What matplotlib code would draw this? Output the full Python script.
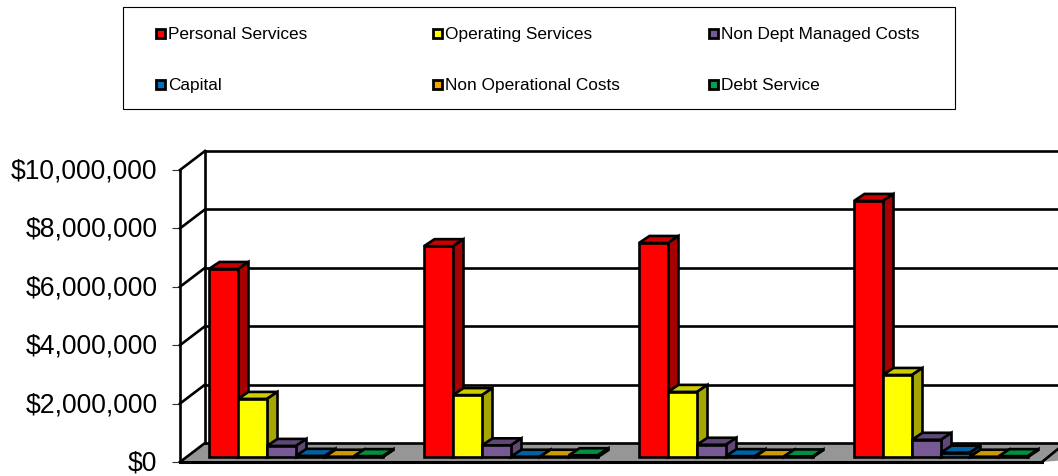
import matplotlib
matplotlib.use("Agg")
import matplotlib.pyplot as plt
from matplotlib.patches import Polygon, Rectangle
from matplotlib.transforms import ScaledTranslation

plt.rcParams['font.family'] = ['Liberation Sans', 'DejaVu Sans']

# 数据
years = [0, 1, 2, 3]
series_names = ['Personal Services', 'Operating Services', 'Non Dept Managed Costs',
                'Capital', 'Non Operational Costs', 'Debt Service']
personal = [6440000, 7220000, 7330000, 8770000]
operating = [1990000, 2120000, 2230000, 2810000]
non_dept = [380000, 400000, 420000, 590000]
capital = [40000, 10000, 30000, 150000]
non_oper = [10000, 10000, 10000, 10000]
debt = [30000, 60000, 20000, 30000]
all_series = [personal, operating, non_dept, capital, non_oper, debt]

y_ticks = [0, 2000000, 4000000, 6000000, 8000000, 10000000]
y_labels = ['$0', '$2,000,000', '$4,000,000', '$6,000,000', '$8,000,000', '$10,000,000']

front = ['#FF0000', '#FFFF00', '#775A93', '#0066AA', '#CC9900', '#009944']
top = ['#CC0000', '#CCCC00', '#5F4876', '#0062A6', '#CC9900', '#009040']
side = ['#A60000', '#A6A600', '#5F4876', '#004C80', '#8A6800', '#006330']
legend_face = ['#FF0000', '#FFFF00', '#775A93', '#0070C0', '#F0A800', '#00A050']

fig = plt.figure(figsize=(10.58, 4.76), dpi=100)
W, H = 1058, 476
ax = fig.add_axes([180 / W, 1 - 462 / H, (W - 180) / W, 292 / H])

# 一个像素对应的数据量
px_x = 1 / 215
px_y = 10000000 / 292
ax.set_xlim(-29 * px_x, 849 * px_x)
ax.set_ylim(0, 10000000)

wall_x = 25 * px_x
wall_y = 19 * px_y
x0 = -29 * px_x
x_end = 849 * px_x
lw = 1.9

# 地板
floor = Polygon([(x0, 0), (x0 + wall_x, wall_y), (x_end + 1, wall_y), (833 * px_x, 0)],
                facecolor='#969696', edgecolor='none', zorder=1, clip_on=False)
ax.add_patch(floor)

# 墙和网格线
for t in y_ticks:
    ax.plot([x0, x0 + wall_x], [t, t + wall_y], color='black', lw=lw, zorder=2, clip_on=False)
    ax.plot([x0 + wall_x, x_end], [t + wall_y, t + wall_y], color='black', lw=lw, zorder=2, clip_on=False)
ax.plot([x0 + wall_x, x0 + wall_x], [wall_y, 10000000 + wall_y], color='black', lw=lw, zorder=2, clip_on=False)
ax.plot([x0, 833 * px_x], [0, 0], color='black', lw=lw + 0.3, zorder=2, clip_on=False)
ax.plot([833 * px_x, x_end], [0, 13 * px_y], color='black', lw=lw, zorder=2, clip_on=False)

# 柱子
bar_w = 29 * px_x
dx = 10.5 * px_x
dy = 7 * px_y
base = 5 * px_y
zo = 3
for g in years:
    for s in range(len(all_series)):
        v = all_series[s][g]
        left = g + s * bar_w
        zo += 1
        ax.bar(left, v, bar_w, bottom=base, align='edge', color=front[s], edgecolor='black',
               linewidth=lw, zorder=zo + 0.5, clip_on=False)
        h = base + v
        ax.add_patch(Polygon([(left, h), (left + dx, h + dy), (left + bar_w + dx, h + dy), (left + bar_w, h)],
                             facecolor=top[s], edgecolor='black', lw=lw, zorder=zo, clip_on=False))
        ax.add_patch(Polygon([(left + bar_w, base), (left + bar_w + dx, base + dy),
                              (left + bar_w + dx, h + dy), (left + bar_w, h)],
                             facecolor=side[s], edgecolor='black', lw=lw, zorder=zo, clip_on=False))

ax.set_xticks([])
ax.set_yticks(y_ticks)
ax.set_yticklabels(y_labels, fontsize=19.1)
ax.tick_params(axis='y', length=5.8, width=0.8, pad=10.5, color='#333333')
up = ScaledTranslation(0, 1.5 / 100, fig.dpi_scale_trans)
for lab in ax.get_yticklabels():
    lab.set_transform(lab.get_transform() + up)
ax.patch.set_visible(False)
for name in ['top', 'right', 'bottom']:
    ax.spines[name].set_visible(False)
ax.spines['left'].set_linewidth(lw)

# 图例
leg = fig.add_axes([0, 0, 1, 1])
leg.set_xlim(0, W)
leg.set_ylim(H, 0)
leg.axis('off')
leg.add_patch(Rectangle((123, 7), 832, 102, facecolor='white', edgecolor='black', lw=0.8))
leg_x = [155, 432, 708]
leg_y = [33, 84]
for i in range(len(series_names)):
    lx = leg_x[i % 3]
    ly = leg_y[i // 3]
    leg.add_patch(Rectangle((lx + 1, ly - 4.5), 9, 9, facecolor=legend_face[i], edgecolor='black', lw=2))
    leg.text(lx + 13, ly, series_names[i], fontsize=12.45, va='center_baseline', ha='left', color='black')

fig.savefig('out.png', dpi=100)
